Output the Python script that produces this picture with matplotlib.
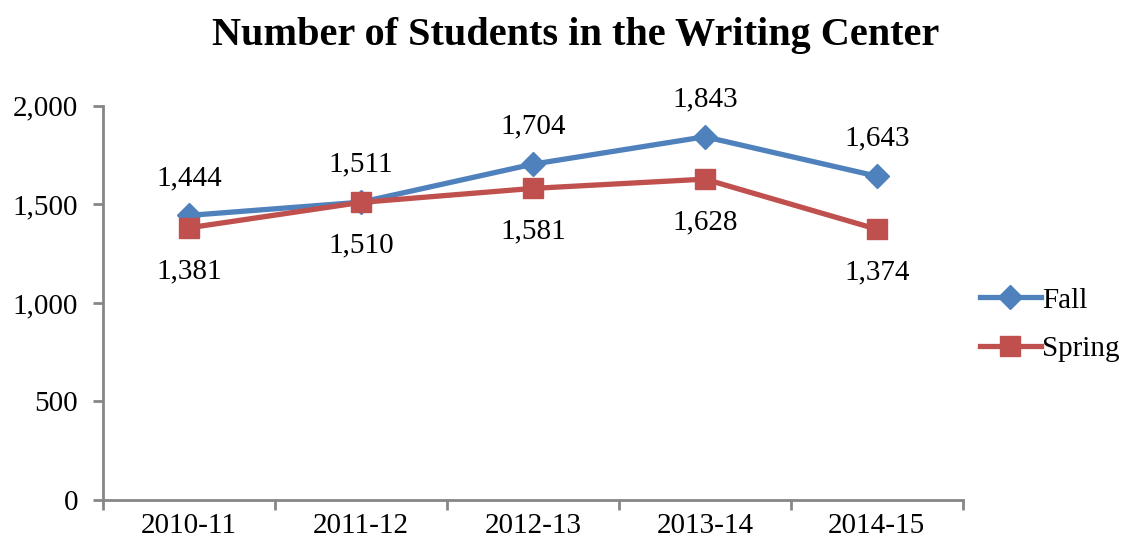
import matplotlib
matplotlib.use("Agg")
import matplotlib.pyplot as plt
from matplotlib.ticker import FuncFormatter, FixedLocator

years = ["2010-11", "2011-12", "2012-13", "2013-14", "2014-15"]
fall = [1444, 1511, 1704, 1843, 1643]
spring = [1381, 1510, 1581, 1628, 1374]
y_ticks = [0, 500, 1000, 1500, 2000]

plt.rcParams['font.family'] = ['Liberation Serif', 'DejaVu Serif']

fig = plt.figure(figsize=(11.24, 5.46), dpi=100)
ax = fig.add_axes([0.0916, 0.0842, 0.765, 0.722])

x = list(range(len(years)))
ax.plot(x, fall, color="#4F81BD", lw=3.8, marker="D", ms=12, label="Fall", zorder=3)
ax.plot(x, spring, color="#C0504D", lw=3.8, marker="s", ms=14, label="Spring", zorder=3)

fs = 21
for xi, v in zip(x, fall):
    ax.annotate(f"{v:,}", (xi, v), xytext=(0, 27), textcoords="offset points",
                ha="center", va="center", fontsize=fs)
for xi, v in zip(x, spring):
    ax.annotate(f"{v:,}", (xi, v), xytext=(0, -31), textcoords="offset points",
                ha="center", va="center", fontsize=fs)

ax.set_xlim(-0.5, len(years) - 0.5)
ax.set_ylim(0, 2000)
ax.set_yticks(y_ticks)
ax.yaxis.set_major_formatter(FuncFormatter(lambda v, p: f"{int(v):,}"))
ax.set_xticks(x)
ax.set_xticklabels(years)
ax.xaxis.set_minor_locator(FixedLocator([i - 0.5 for i in range(len(years) + 1)]))
ax.tick_params(axis="x", which="major", length=0, pad=9, labelsize=fs)
ax.tick_params(axis="x", which="minor", length=7, width=2, color="#868686")
ax.tick_params(axis="y", length=7, width=2, color="#868686", pad=11, labelsize=fs)

for side in ("top", "right"):
    ax.spines[side].set_visible(False)
for side in ("left", "bottom"):
    ax.spines[side].set_color("#868686")
    ax.spines[side].set_linewidth(2)

fig.suptitle("Number of Students in the Writing Center", x=0.512, y=0.968,
             fontsize=29, fontweight="bold")

ax.legend(loc="center left", bbox_to_anchor=(1.006, 0.445), frameon=False,
          fontsize=fs, handlelength=2.1, handletextpad=0.05, labelspacing=0.75,
          borderaxespad=0)

fig.savefig("out.png", dpi=100)
